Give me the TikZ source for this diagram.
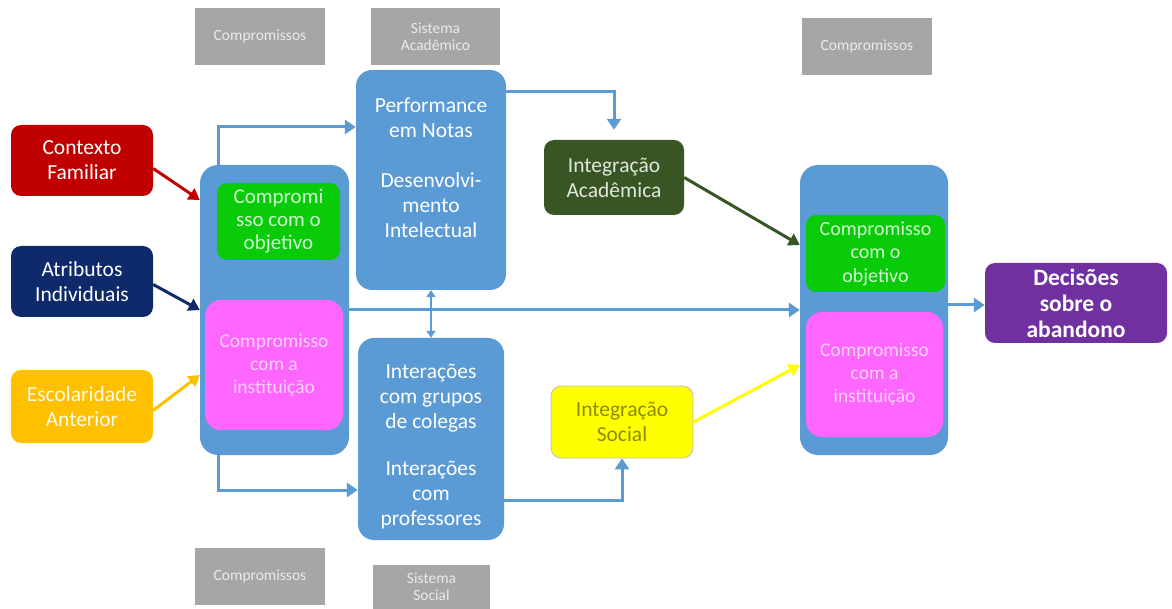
\documentclass[tikz,border=0pt]{standalone}
\usepackage{fontspec}
\setmainfont{Carlito}
\usetikzlibrary{arrows.meta}
\definecolor{cblue}{HTML}{5B9BD5}
\definecolor{cred}{HTML}{C00000}
\definecolor{cnavy}{HTML}{0E2A6A}
\definecolor{corange}{HTML}{FFC000}
\definecolor{cgreen}{HTML}{0ACB0A}
\definecolor{cpink}{HTML}{FF66FF}
\definecolor{cdkgreen}{HTML}{375623}
\definecolor{cyellow}{HTML}{FFFF00}
\definecolor{cpurple}{HTML}{7030A0}
\definecolor{cgray}{HTML}{A6A6A6}
\definecolor{cgraytxt}{HTML}{EBEBEB}
\begin{document}
\begin{tikzpicture}[x=1pt,y=-1pt,
  box/.style={rounded corners=10pt, align=center, inner sep=0pt, text=white,
    font=\fontsize{21.5}{25}\selectfont},
  container/.style={fill=cblue, rounded corners=18pt, inner sep=0pt},
  ctext/.style={align=center, text=white, inner sep=0pt, font=\fontsize{21.5}{25}\selectfont},
  gbox/.style={fill=cgray, text=cgraytxt, align=center, inner sep=1pt,
    font=\fontsize{15.5}{17}\selectfont},
  arr/.style={draw=cblue, line width=3pt, -{Triangle[length=11pt,width=14pt]}},
  darr/.style={draw=cblue, line width=2.2pt, {Triangle[length=7pt,width=9pt]}-{Triangle[length=7pt,width=9pt]}},
  carr/.style={line width=3pt, -{Triangle[length=11pt,width=13pt]}},
]
\path[use as bounding box, fill=white] (0,0) rectangle (1172,609);

% gray labels
\node[gbox, minimum width=130pt, minimum height=57pt] (g1) at (260,36.5) {Compromissos};
\node[gbox, minimum width=129pt, minimum height=57pt] (g2) at (435.5,36.5) {Sistema\\Acadêmico};
\node[gbox, minimum width=130pt, minimum height=57pt] (g3) at (867,46.5) {Compromissos};
\node[gbox, minimum width=130pt, minimum height=57pt] (g4) at (260,576.5) {Compromissos};
\node[gbox, minimum width=117pt, minimum height=44pt] (g5) at (431.5,587) {Sistema\\Social};

% left inputs
\node[box, fill=cred, minimum width=142pt, minimum height=71pt] (ctx) at (82,160.5) {Contexto\\Familiar};
\node[box, fill=cnavy, minimum width=142pt, minimum height=71pt] (atr) at (82,281.5) {Atributos\\Individuais};
\node[box, fill=corange, text=white!92!corange, minimum width=142pt, minimum height=73pt] (esc) at (82,406.5) {Escolaridade\\Anterior};

% left container
\node[container, minimum width=149pt, minimum height=290pt] (left) at (274.5,310) {};
\node[box, fill=cgreen, text=white!80!cgreen, minimum width=123pt, minimum height=77pt,
  font=\fontsize{21}{23}\selectfont] (lg) at (278.5,221.5) {Compromi\\sso com o\\objetivo};
\node[box, fill=cpink, text=white!70!cpink, minimum width=138pt, minimum height=130pt, rounded corners=16pt,
  font=\fontsize{19.5}{23}\selectfont] (lp) at (274,365) {Compromisso\\com a\\instituição};

% middle
\node[container, rounded corners=16pt, minimum width=150pt, minimum height=220pt] (perf) at (431,180) {};
\node[ctext] (perfT) at (431,168) {Performance\\em Notas\\[25pt]Desenvolvi-\\mento\\Intelectual};
\node[container, rounded corners=16pt, minimum width=146pt, minimum height=202pt] (inter) at (431,439) {};
\node[ctext] (interT) at (431,447) {Interações\\com grupos\\de colegas\\[22pt]Interações\\com\\professores};

\node[box, fill=cdkgreen, text=white!85!cdkgreen, minimum width=140pt, minimum height=75pt] (intA) at (614,177.5) {Integração\\Acadêmica};
\node[box, fill=cyellow, draw=black!25, line width=0.8pt, text=black!45!cyellow, minimum width=142pt, minimum height=72pt] (intS) at (622,422) {Integração\\Social};

% right container
\node[container, minimum width=148pt, minimum height=290pt] (right) at (874,310) {};
\node[box, fill=cgreen, text=white!80!cgreen, minimum width=139pt, minimum height=77pt,
  font=\fontsize{20}{23.5}\selectfont] (rg) at (875.5,253.5) {Compromisso\\com o\\objetivo};
\node[box, fill=cpink, text=white!70!cpink, minimum width=137pt, minimum height=125pt, rounded corners=16pt,
  font=\fontsize{19.5}{23}\selectfont] (rp) at (874.5,374.5) {Compromisso\\com a\\instituição};

\node[box, fill=cpurple, font=\bfseries\fontsize{23.5}{26}\selectfont, minimum width=182pt, minimum height=80pt] (dec) at (1076,303) {Decisões\\sobre o\\abandono};

% connectors
\draw[carr, draw=cred] ([yshift=-8pt]ctx.east) -- ([yshift=110pt]left.west);
\draw[carr, draw=cnavy] ([yshift=-3pt]atr.east) -- (left.west);
\draw[carr, draw=corange] ([yshift=-4pt]esc.east) -- ([yshift=-65pt]left.west);

\draw[arr] ([xshift=-56pt]left.north) |- ([yshift=53pt]perf.west);
\draw[arr] ([xshift=-56pt]left.south) |- ([yshift=-51pt]inter.west);
\draw[darr] (perf.south) -- (inter.north);
\draw[arr] (left.east) -- (right.west);
\draw[arr] ([yshift=88pt]perf.east) -| ([yshift=10pt]intA.north);
\draw[arr] ([yshift=-61pt]inter.east) -| (intS.south);
\draw[carr, draw=cdkgreen] (intA.east) -- ([yshift=65pt]right.west);
\draw[carr, draw=cyellow] (intS.east) -- ([yshift=-55pt]right.west);
\draw[arr] ([yshift=5pt]right.east) -- ([yshift=-2pt]dec.west);
\end{tikzpicture}
\end{document}
